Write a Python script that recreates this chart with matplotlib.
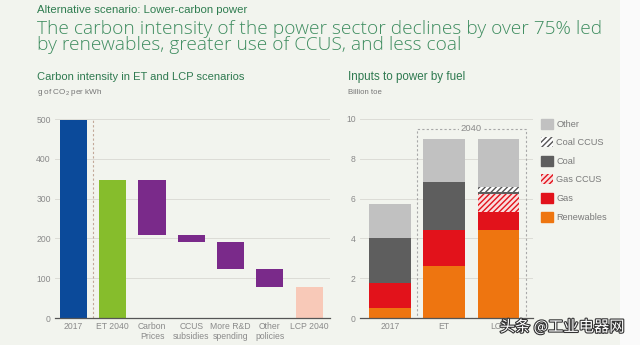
import matplotlib
matplotlib.use("Agg")
import matplotlib.pyplot as plt
import matplotlib.patheffects as pe
from matplotlib.patches import Patch, Rectangle
import numpy as np

plt.rcParams['font.family'] = ['Liberation Sans', 'DejaVu Sans']
plt.rcParams['mathtext.default'] = 'regular'
plt.rcParams['hatch.linewidth'] = 1.0

# ---- Data: carbon intensity waterfall (g CO2 per kWh)
ci_categories = ['2017', 'ET 2040', 'Carbon\nPrices', 'CCUS\nsubsidies',
                 'More R&D\nspending', 'Other\npolicies', 'LCP 2040']
ci_2017 = 497
ci_et2040 = 346
ci_reductions = [138, 18, 66, 46]      # carbon prices, CCUS, R&D, other policies
ci_lcp2040 = 78

# ---- Data: inputs to power by fuel (billion toe)
fuel_categories = ['2017', 'ET', 'LCP']
renewables = [0.5, 2.6, 4.4]
gas = [1.25, 1.8, 0.95]
gas_ccus = [0.0, 0.0, 0.9]
coal = [2.25, 2.45, 0.1]
coal_ccus = [0.0, 0.0, 0.25]
other = [1.75, 2.15, 2.4]

BG = '#f2f4ee'
W, H = 640, 345
fig = plt.figure(figsize=(6.4, 3.45), dpi=100, facecolor=BG)
renderer = fig.canvas.get_renderer()


def fx(x):
    return x / W


def fy(y):
    return 1 - y / H


def fit_text(x, y, s, target_w, size, **kw):
    t = fig.text(fx(x), fy(y), s, fontsize=size, **kw)
    w = t.get_window_extent(renderer=renderer).width
    if w > 0:
        t.set_fontsize(size * target_w / w)
    return t


fig.patches.append(Rectangle((fx(620), 0), fx(20), 1, transform=fig.transFigure,
                             facecolor='#fafafa', edgecolor='none', zorder=0))

# ---- Header texts
TITLE_FONT = dict(family=['Open Sans', 'DejaVu Sans'], fontweight='light')
fit_text(37, 10, 'Alternative scenario: Lower-carbon power', 210, 7.5,
         color='#2f7d50', va='center', ha='left')
t1 = fit_text(37, 33.5, 'The carbon intensity of the power sector declines by over 75% led', 562, 13,
              color='#3f8d60', va='baseline', ha='left', **TITLE_FONT)
fig.text(fx(37), fy(50.5), 'by renewables, greater use of CCUS, and less coal',
         fontsize=t1.get_fontsize(), color='#3f8d60', va='baseline', ha='left', **TITLE_FONT)
fit_text(37, 77, 'Carbon intensity in ET and LCP scenarios', 205, 7.5,
         color='#2f7a50', va='center', ha='left')
fit_text(37, 93, 'g of CO$_2$ per kWh', 66, 5.5, color='#777777',
         va='center', ha='left')
fit_text(348, 77, 'Inputs to power by fuel', 116, 7.5,
         color='#2f7a50', va='center', ha='left')
fit_text(348, 93, 'Billion toe', 34, 5.5, color='#777777',
         va='center', ha='left')

TICKC = '#8a8a8a'
GRIDC = '#dcdcd6'

# ---- Left chart: waterfall
ax1 = fig.add_axes([fx(55), fy(318), fx(330 - 55), (318 - 119) / H])
ax1.set_facecolor('none')
x1 = np.arange(len(ci_categories))
tops = [ci_2017, ci_et2040]
bottoms = [0, 0]
level = ci_et2040
for r in ci_reductions:
    tops.append(level)
    bottoms.append(level - r)
    level -= r
tops.append(ci_lcp2040)
bottoms.append(0)
heights = [t - b for t, b in zip(tops, bottoms)]
colors1 = ['#0b4a9a', '#86bd2c'] + ['#7a2a8a'] * len(ci_reductions) + ['#f8c9b8']
ax1.bar(x1, heights, bottom=bottoms, width=0.69, color=colors1, zorder=3)
ax1.vlines(0.5, 0, 500, colors='#c2a898', linestyles=(0, (2, 2)), linewidth=0.8, zorder=2)
ax1.set_xlim(-0.47, 6.53)
ax1.set_ylim(0, 500)
ax1.set_yticks([0, 100, 200, 300, 400, 500])
ax1.set_xticks(x1)
ax1.set_xticklabels(ci_categories, fontsize=6.2, color=TICKC, linespacing=1.15)
ax1.grid(axis='y', color=GRIDC, linewidth=0.7, zorder=0)
ax1.tick_params(axis='y', length=0, pad=3, labelsize=6.2, labelcolor=TICKC)
ax1.tick_params(axis='x', length=0, pad=3)
for s in ['left', 'right', 'top']:
    ax1.spines[s].set_visible(False)
ax1.spines['bottom'].set_color('#555555')
ax1.spines['bottom'].set_linewidth(0.9)
ax1.spines['bottom'].set_zorder(4)

# ---- Right chart: stacked bars
ax2 = fig.add_axes([fx(360), fy(318), fx(533 - 360), (318 - 119) / H])
ax2.set_facecolor('none')
x2 = np.arange(len(fuel_categories))
series = [
    ('Renewables', renewables, dict(color='#ee7510')),
    ('Gas', gas, dict(color='#e2121b')),
    ('Gas CCUS', gas_ccus, dict(facecolor='#f9dede', edgecolor='#e2121b', hatch='//////', linewidth=0)),
    ('Coal', coal, dict(color='#5e5e5e')),
    ('Coal CCUS', coal_ccus, dict(facecolor='#ffffff', edgecolor='#555555', hatch='//////', linewidth=0)),
    ('Other', other, dict(color='#c1c1c1')),
]
base = np.zeros(len(fuel_categories))
handles = {}
for name, vals, style in series:
    ax2.bar(x2, vals, bottom=base, width=0.77, zorder=3, **style)
    handles[name] = Patch(**style)
    base = base + np.array(vals)

ax2.add_patch(Rectangle((0.503, 0), 2.5 - 0.503, 9.5, fill=False, edgecolor='#a8a8a8',
                        linestyle=(0, (2, 2)), linewidth=0.8, zorder=2))
ax2.text(1.5, 9.5, '2040', ha='center', va='center', fontsize=6.8, color='#8a8a8a',
         zorder=5, bbox=dict(facecolor=BG, edgecolor='none', pad=1.0))
ax2.set_xlim(-0.553, 2.636)
ax2.set_ylim(0, 10)
ax2.set_yticks([0, 2, 4, 6, 8, 10])
ax2.set_xticks(x2)
ax2.set_xticklabels(fuel_categories, fontsize=6.2, color=TICKC)
ax2.grid(axis='y', color=GRIDC, linewidth=0.7, zorder=0)
ax2.tick_params(axis='y', length=0, pad=3, labelsize=6.2, labelcolor=TICKC)
ax2.tick_params(axis='x', length=0, pad=3)
for s in ['left', 'right', 'top']:
    ax2.spines[s].set_visible(False)
ax2.spines['bottom'].set_color('#555555')
ax2.spines['bottom'].set_linewidth(0.9)
ax2.spines['bottom'].set_zorder(4)

order = ['Other', 'Coal CCUS', 'Coal', 'Gas CCUS', 'Gas', 'Renewables']
leg = fig.legend([handles[n] for n in order], order, loc='upper left',
                 bbox_to_anchor=(fx(540.5), fy(118.5)), frameon=False,
                 fontsize=6.6, handlelength=1.33, handleheight=1.33,
                 labelspacing=0.92, handletextpad=0.4, borderpad=0, borderaxespad=0)
for t in leg.get_texts():
    t.set_color('#7a7a7a')

# ---- Watermark
fig.text(fx(562), fy(327), '头条 @工业电器网', fontsize=11,
         family=['Noto Sans CJK SC', 'DejaVu Sans'], color='white', ha='center', va='center',
         path_effects=[pe.withStroke(linewidth=1.6, foreground='#333333')], zorder=10)

fig.savefig('out.png', dpi=100, facecolor=BG)
